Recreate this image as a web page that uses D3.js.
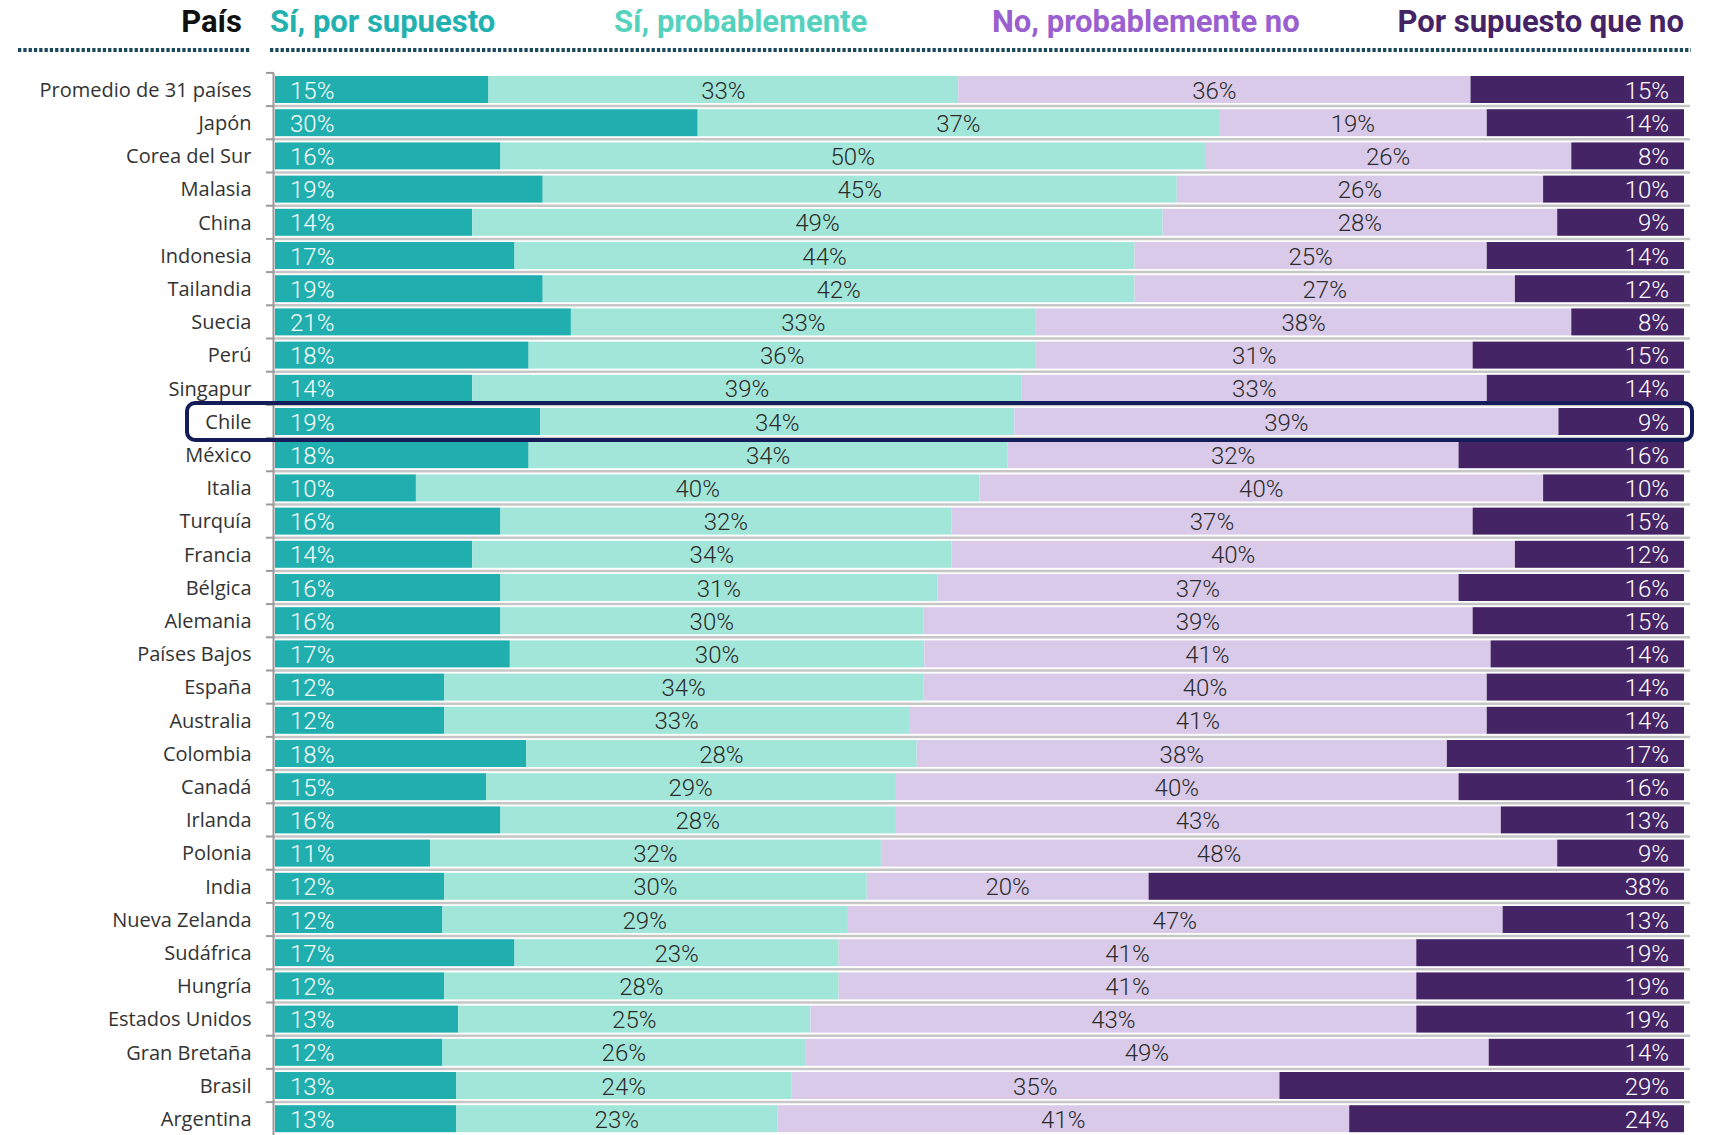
<!DOCTYPE html>
<html>
<head>
<meta charset="utf-8">
<script src="https://cdn.jsdelivr.net/npm/d3@7"></script>
<style>
  body { margin: 0; background: #fff; }
  svg { display: block; }
</style>
</head>
<body>
<div id="chart"></div>
<script>
// data (percent labels)
const countries = ["Promedio de 31 países", "Japón", "Corea del Sur", "Malasia", "China", "Indonesia",
  "Tailandia", "Suecia", "Perú", "Singapur", "Chile", "México", "Italia", "Turquía", "Francia",
  "Bélgica", "Alemania", "Países Bajos", "España", "Australia", "Colombia", "Canadá", "Irlanda",
  "Polonia", "India", "Nueva Zelanda", "Sudáfrica", "Hungría", "Estados Unidos", "Gran Bretaña",
  "Brasil", "Argentina"];
const siPorSupuesto   = [15, 30, 16, 19, 14, 17, 19, 21, 18, 14, 19, 18, 10, 16, 14, 16, 16, 17, 12, 12, 18, 15, 16, 11, 12, 12, 17, 12, 13, 12, 13, 13];
const siProbablemente = [33, 37, 50, 45, 49, 44, 42, 33, 36, 39, 34, 34, 40, 32, 34, 31, 30, 30, 34, 33, 28, 29, 28, 32, 30, 29, 23, 28, 25, 26, 24, 23];
const noProbablemente = [36, 19, 26, 26, 28, 25, 27, 38, 31, 33, 39, 32, 40, 37, 40, 37, 39, 41, 40, 41, 38, 40, 43, 48, 20, 47, 41, 41, 43, 49, 35, 41];
const porSupuestoNo   = [15, 14,  8, 10,  9, 14, 12,  8, 15, 14,  9, 16, 10, 15, 12, 16, 15, 14, 14, 14, 17, 16, 13,  9, 38, 13, 19, 19, 19, 14, 29, 24];
const seriesNames = ["Sí, por supuesto", "Sí, probablemente", "No, probablemente no", "Por supuesto que no"];
const highlight = "Chile";

const keys = ["a", "b", "c", "d"];
const fills = ["#20afae", "#a2e6d9", "#d9caea", "#452466"];
const headColors = ["#22b1ae", "#55d2be", "#9a60cf", "#452466"];
const textColors = ["#fff", "#2b2b2b", "#2b2b2b", "#fff"];

const rows = countries.map((c, i) => ({
  country: c, a: siPorSupuesto[i], b: siProbablemente[i], c: noProbablemente[i], d: porSupuestoNo[i]
}));

const W = 1709, H = 1135;
const svg = d3.select("#chart").append("svg")
  .attr("width", W)
  .attr("height", H);

// scales
const x = d3.scaleLinear().domain([0, 1]).range([275, 1684]);
const y = d3.scaleBand()
  .domain(countries)
  .range([72.9, 72.9 + countries.length * 33.2])
  .paddingInner(0.187)
  .paddingOuter(0.0935);

const stack = d3.stack().keys(keys).offset(d3.stackOffsetExpand);
const stacked = stack(rows);

// header
const headX = [270, 614, 992, 1684];
const headAnchor = ["start", "start", "start", "end"];
svg.append("text")
  .attr("x", 242).attr("y", 32)
  .attr("text-anchor", "end")
  .style("font", "700 31px Roboto")
  .attr("fill", "#111")
  .text("País");
svg.selectAll(".head")
  .data(seriesNames)
  .enter().append("text")
    .attr("class", "head")
    .attr("x", (d, i) => headX[i])
    .attr("y", 32)
    .attr("text-anchor", (d, i) => headAnchor[i])
    .style("font", "700 31px Roboto")
    .attr("fill", (d, i) => headColors[i])
    .text(d => d);

// dotted rules under header
[[18, 251], [270, 1691]].forEach(function(s) {
  svg.append("line")
    .attr("x1", s[0]).attr("x2", s[1])
    .attr("y1", 50).attr("y2", 50)
    .attr("stroke", "#1d4a5b")
    .attr("stroke-width", 4)
    .attr("stroke-dasharray", "3.3 2");
});

// row boundaries
const gap = y.step() - y.bandwidth();
const bounds = countries.slice(1).map(c => y(c) - gap / 2);

svg.append("g").selectAll("line")
  .data(bounds)
  .enter().append("line")
    .attr("x1", 274).attr("x2", 1690)
    .attr("y1", d => d).attr("y2", d => d)
    .attr("stroke", "#c6c6c6")
    .attr("stroke-width", 2.5);

// bars
const layer = svg.append("g").selectAll("g")
  .data(stacked)
  .enter().append("g")
    .attr("fill", (d, i) => fills[i]);

layer.selectAll("rect")
  .data(d => d)
  .enter().append("rect")
    .attr("x", d => x(d[0]))
    .attr("y", d => y(d.data.country))
    .attr("width", d => x(d[1]) - x(d[0]))
    .attr("height", y.bandwidth());

// value labels
stacked.forEach(function(s, si) {
  svg.append("g").selectAll("text")
    .data(s)
    .enter().append("text")
      .attr("x", function(d) {
        if (si === 0) return x(d[0]) + 15;
        if (si === 3) return x(d[1]) - 15;
        return (x(d[0]) + x(d[1])) / 2;
      })
      .attr("y", d => y(d.data.country) + y.bandwidth() / 2 + 9)
      .attr("text-anchor", si === 0 ? "start" : si === 3 ? "end" : "middle")
      .style("font", "300 24px Roboto")
      .attr("fill", textColors[si])
      .text(d => d.data[keys[si]] + "%");
});

// category axis
const yAxis = svg.append("g")
  .attr("transform", "translate(273.5,0)")
  .call(d3.axisLeft(y).tickSize(0).tickPadding(22));
yAxis.select(".domain").remove();
yAxis.selectAll("text")
  .style("font", "20px 'Open Sans'")
  .attr("fill", "#333")
  .attr("dy", "0.36em");

// bracket line + ticks between rows
const topY = y(countries[0]) - gap / 2;
svg.append("line")
  .attr("x1", 273.5).attr("x2", 273.5)
  .attr("y1", topY).attr("y2", H)
  .attr("stroke", "#9a9a9a").attr("stroke-width", 2);
svg.append("g").selectAll("line")
  .data([topY].concat(bounds))
  .enter().append("line")
    .attr("x1", 266).attr("x2", 274)
    .attr("y1", d => d).attr("y2", d => d)
    .attr("stroke", "#9a9a9a").attr("stroke-width", 2);

// highlight box
svg.append("rect")
  .attr("x", 187)
  .attr("y", y(highlight) - 5)
  .attr("width", 1505)
  .attr("height", y.bandwidth() + 10)
  .attr("rx", 8)
  .attr("fill", "none")
  .attr("stroke", "#141c5a")
  .attr("stroke-width", 4);
</script>
</body>
</html>
